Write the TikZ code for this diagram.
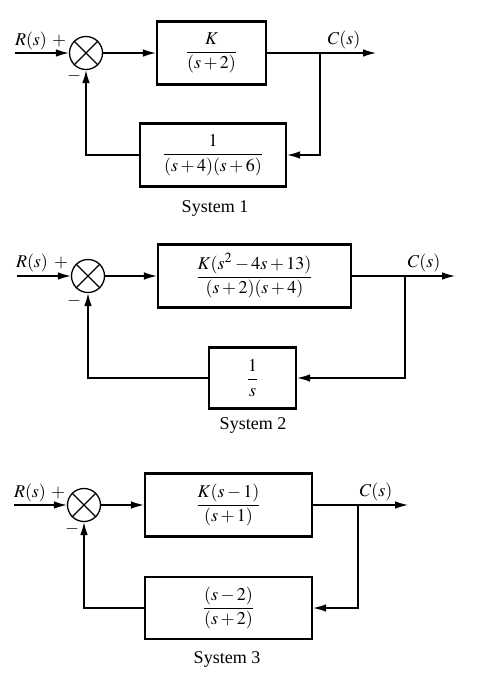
\documentclass[tikz,border=0pt]{standalone}
\usepackage{amsmath}
\usepackage{mathptmx}
\usepackage[no-math]{fontspec}
\setmainfont{Liberation Serif}
\usetikzlibrary{arrows.meta}

\begin{document}
\begin{tikzpicture}[
    x=0.5pt, y=-0.5pt,
    font=\fontsize{9}{11}\selectfont,
    block/.style={draw, line width=1.1pt, inner sep=0pt, align=center},
    sumj/.style={draw, circle, line width=0.65pt, minimum size=16.5pt, inner sep=0pt},
    wire/.style={line width=0.65pt},
    arrow/.style={-{Latex[length=6.5pt,width=3.8pt]}, line width=0.65pt}
]
    \useasboundingbox (0,0) rectangle (481,681);

    \coordinate (in1) at (15,53);
    \node[sumj] (sum1) at (86,53) {};
    \node[block, minimum width=54.5pt, minimum height=31.5pt] (fwd1) at (211.5,53) {$\dfrac{K}{(s+2)}$};
    \node[block, minimum width=73pt, minimum height=31.5pt] (fb1) at (213,155) {$\dfrac{1}{(s+4)(s+6)}$};
    \coordinate (br1) at (320,53);
    \coordinate (out1) at (376,53);
    \node (r1) at (31,41) {$R(s)$};
    \node (p1) at (59,41) {$+$};
    \node (m1) at (74,76) {$-$};
    \node (c1) at (344,40) {$C(s)$};
    \node (t1) at (215,208) {System 1};

    \draw[arrow] (in1) -- (sum1);
    \draw[arrow] (sum1) -- (fwd1);
    \draw[arrow] (fwd1) -- (out1);
    \draw[arrow] (br1) |- (fb1);
    \draw[arrow] (fb1) -| (sum1);

    \coordinate (in2) at (17,276);
    \node[sumj] (sum2) at (88,276) {};
    \node[block, minimum width=96.5pt, minimum height=31.5pt] (fwd2) at (254.5,276) {$\dfrac{K(s^2-4s+13)}{(s+2)(s+4)}$};
    \node[block, minimum width=43.5pt, minimum height=30.5pt] (fb2) at (252.5,378) {$\dfrac{1}{s}$};
    \coordinate (br2) at (405,276);
    \coordinate (out2) at (455,276);
    \node (r2) at (32,263) {$R(s)$};
    \node (p2) at (61,263) {$+$};
    \node (m2) at (74,301) {$-$};
    \node (c2) at (424,263) {$C(s)$};
    \node (t2) at (253,425) {System 2};

    \draw[arrow] (in2) -- (sum2);
    \draw[arrow] (sum2) -- (fwd2);
    \draw[arrow] (fwd2) -- (out2);
    \draw[arrow] (br2) |- (fb2);
    \draw[arrow] (fb2) -| (sum2);

    \coordinate (in3) at (14,505);
    \node[sumj] (sum3) at (84,505) {};
    \node[block, minimum width=83.5pt, minimum height=31.5pt] (fwd3) at (228.5,505) {$\dfrac{K(s-1)}{(s+1)}$};
    \node[block, minimum width=83.5pt, minimum height=31pt] (fb3) at (228.5,608) {$\dfrac{(s-2)}{(s+2)}$};
    \coordinate (br3) at (358,505);
    \coordinate (out3) at (408,505);
    \node (r3) at (30,493) {$R(s)$};
    \node (p3) at (58,493) {$+$};
    \node (m3) at (72,529) {$-$};
    \node (c3) at (376,492) {$C(s)$};
    \node (t3) at (227,659) {System 3};

    \draw[arrow] (in3) -- (sum3);
    \draw[arrow] (sum3) -- (fwd3);
    \draw[arrow] (fwd3) -- (out3);
    \draw[arrow] (br3) |- (fb3);
    \draw[arrow] (fb3) -| (sum3);

    \draw[wire] (sum1.45) -- (sum1.225) (sum1.135) -- (sum1.315);
    \draw[wire] (sum2.45) -- (sum2.225) (sum2.135) -- (sum2.315);
    \draw[wire] (sum3.45) -- (sum3.225) (sum3.135) -- (sum3.315);
\end{tikzpicture}
\end{document}
